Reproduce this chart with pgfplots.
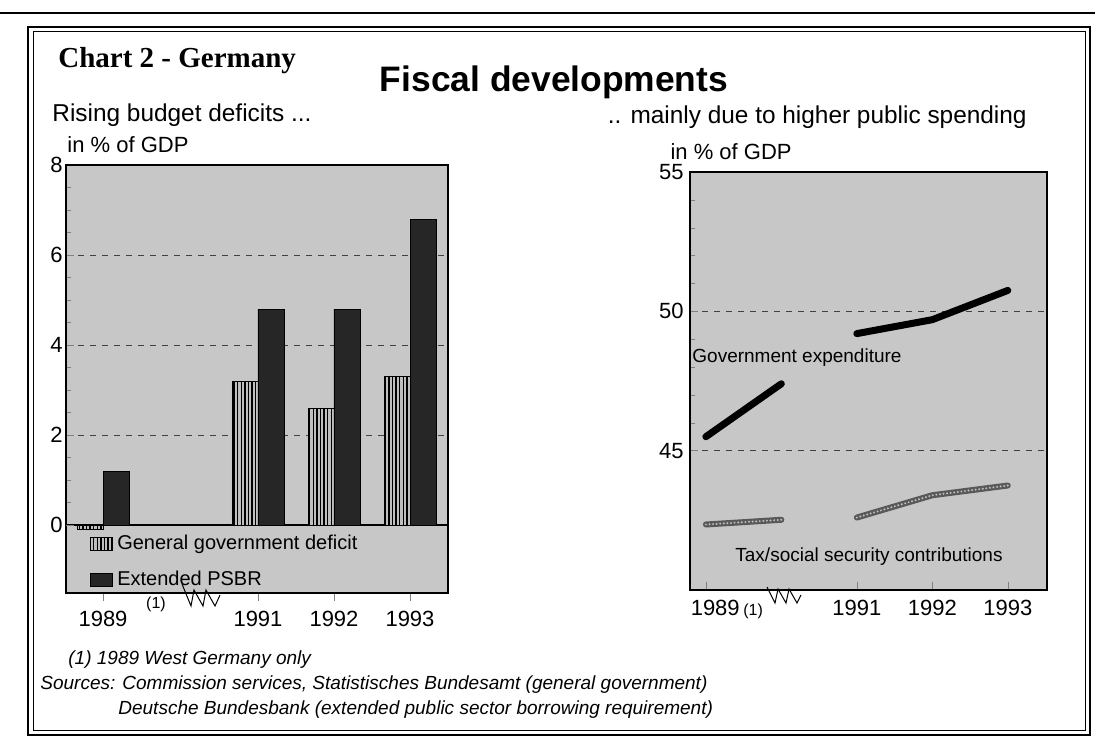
\documentclass[border=0pt]{standalone}
\usepackage{fontspec}
\setmainfont{Liberation Sans}
\newfontfamily\timesfont{Liberation Serif}
\usepackage{pgfplots}
\pgfplotsset{compat=1.18}
\usetikzlibrary{patterns.meta}

\begin{document}
\begin{tikzpicture}
\useasboundingbox (0pt,0pt) rectangle (547.5pt,374.5pt);
\fill[white] (0pt,0pt) rectangle (547.5pt,374.5pt);
% frame
\draw[line width=1.2pt] (0pt,368pt) -- (547.5pt,368pt);
\draw[line width=1.2pt] (14pt,7pt) rectangle (545pt,361pt);
\draw[line width=0.5pt] (16.5pt,9.5pt) rectangle (542.5pt,358.5pt);

\pgfplotsset{every axis/.append style={
  font=\fontsize{11}{13}\selectfont,
  /pgf/number format/assume math mode=true,
  scale only axis, tick align=inside, xtick pos=bottom, ytick pos=left,
  axis background/.style={fill=black!22},
  axis line style={line width=0.6pt},
  major tick length=4pt, minor tick length=2.5pt,
  grid style={dashed, black!75, line width=0.4pt},
  yticklabel style={inner sep=1.5pt},
  xticklabel style={inner sep=0pt, yshift=-5pt},
}}

\begin{axis}[at={(33pt,78pt)}, anchor=south west, width=191pt, height=214pt,
  xmin=0, xmax=5.026, ymin=-1.51, ymax=8,
  ytick={0,2,4,6,8}, minor y tick num=3, ymajorgrids,
  extra y ticks={0}, extra y tick labels={},
  extra y tick style={grid=major, major grid style={solid, black, line width=0.6pt}},
  xtick={0.487,2.526,3.526,4.526}, xticklabels={1989,1991,1992,1993},
  ybar=0pt, bar width=13pt,
  legend image code/.code={\draw[#1] (0pt,-3.25pt) rectangle (11pt,3.25pt);},
  legend style={at={(0.063,0.145)}, anchor=north west, draw=none, fill=none,
    font=\fontsize{10}{12}\selectfont, row sep=5pt, inner sep=0pt,
    cells={anchor=west}},
  legend cell align=left]
\addplot[draw=black, line width=0.4pt, fill=black!25,
  postaction={pattern={Lines[angle=90,distance=1.8pt,line width=0.7pt]}}]
  coordinates {(0.487,-0.1) (2.526,3.2) (3.526,2.6) (4.526,3.3)};
\addlegendentry{General government deficit}
\addplot[draw=black, line width=0.4pt, fill=black!85]
  coordinates {(0.487,1.2) (2.526,4.8) (3.526,4.8) (4.526,6.8)};
\addlegendentry{Extended PSBR}
\end{axis}

\begin{axis}[at={(345pt,79.5pt)}, anchor=south west, width=178.5pt, height=209pt,
  xmin=1988.79, xmax=1993.52, ymin=40, ymax=55,
  ytick={45,50,55}, minor y tick num=4, ymajorgrids,
  yticklabel style={inner sep=3pt},
  xtick={1989,1991,1992,1993},
  xticklabels={\hspace*{21pt}1989\,{\fontsize{8}{9}\selectfont(1)},1991,1992,1993}]
\addplot[black, line width=3.5pt, line cap=round] coordinates {(1989,45.5) (1990,47.4)};
\addplot[black, line width=3.5pt, line cap=round] coordinates {(1991,49.2) (1992,49.7) (1993,50.75)};
\addplot[black!65, line width=3pt, line cap=round] coordinates {(1989,42.35) (1990,42.52)};
\addplot[black!25, line width=1.1pt, line cap=round, dash pattern=on 0pt off 1.8pt] coordinates {(1989,42.35) (1990,42.52)};
\addplot[black!65, line width=3pt, line cap=round] coordinates {(1991,42.6) (1992,43.4) (1993,43.75)};
\addplot[black!25, line width=1.1pt, line cap=round, dash pattern=on 0pt off 1.8pt] coordinates {(1991,42.6) (1992,43.4) (1993,43.75)};
\end{axis}

% break marks
\draw[line width=0.5pt] (91pt,82.5pt) -- (95.5pt,71.5pt) -- (97pt,79.5pt) -- (101.5pt,71.5pt) -- (103pt,79.5pt) -- (107.5pt,71.5pt) -- (110pt,77pt);
\draw[line width=0.5pt] (383.5pt,81pt) -- (387.5pt,73pt) -- (389pt,80pt) -- (393pt,73pt) -- (394.5pt,80pt) -- (398.5pt,73pt) -- (400.5pt,77pt);
\node[inner sep=0, font=\fontsize{8}{9}\selectfont] at (78pt,72.5pt) {(1)};

% titles
\node[anchor=base west, inner sep=0, font=\timesfont\bfseries\fontsize{14.5}{16}\selectfont] at (29pt,340.5pt) {Chart 2 - Germany};
\node[anchor=base, inner sep=0, font=\bfseries\fontsize{17.7}{20}\selectfont] at (277pt,328.5pt) {Fiscal developments};
\node[anchor=base west, inner sep=0, font=\fontsize{12.2}{14}\selectfont] at (26pt,313.5pt) {Rising budget deficits ...};
\node[anchor=base east, inner sep=0, font=\fontsize{12.2}{14}\selectfont] at (513.5pt,312.5pt) {.. mainly due to higher public spending};
\node[anchor=base west, inner sep=0, font=\fontsize{11}{13}\selectfont] at (33.5pt,298pt) {in \% of GDP};
\node[anchor=base east, inner sep=0, font=\fontsize{11}{13}\selectfont] at (396pt,294.5pt) {in \% of GDP};

% series labels
\node[anchor=base west, inner sep=0, font=\fontsize{9.5}{11}\selectfont] at (346pt,193pt) {Government expenditure};
\node[anchor=base west, inner sep=0, font=\fontsize{9.5}{11}\selectfont] at (367.5pt,94pt) {Tax/social security contributions};

% footnotes
\node[anchor=base west, inner sep=0, font=\itshape\fontsize{9.5}{11}\selectfont] at (34pt,42.5pt) {(1) 1989 West Germany only};
\node[anchor=base west, inner sep=0, font=\itshape\fontsize{9.5}{11}\selectfont] at (20pt,30pt) {Sources: Commission services, Statistisches Bundesamt (general government)};
\node[anchor=base west, inner sep=0, font=\itshape\fontsize{9.5}{11}\selectfont] at (59pt,17.5pt) {Deutsche Bundesbank (extended public sector borrowing requirement)};
\end{tikzpicture}
\end{document}
